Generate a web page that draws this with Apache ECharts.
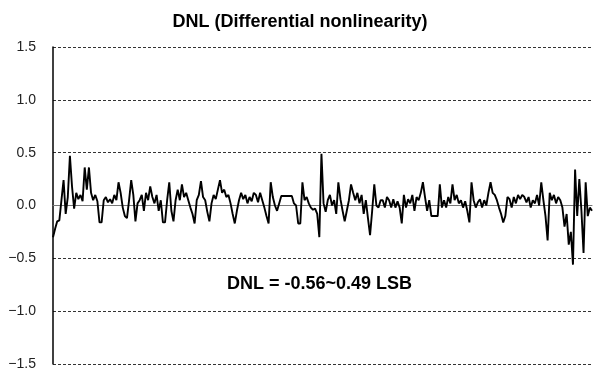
<!DOCTYPE html>
<html>
<head>
<meta charset="utf-8">
<script src="https://cdn.jsdelivr.net/npm/echarts@6/dist/echarts.min.js"></script>
<style>html,body{margin:0;padding:0;background:#fff;}#c{width:600px;height:371px;}</style>
</head>
<body>
<div id="c"></div>
<script>
const titleText = 'DNL (Differential nonlinearity)';
const noteText = 'DNL = -0.56~0.49 LSB';
const yTicks = [-1.5, -1.0, -0.5, 0.0, 0.5, 1.0, 1.5];
const dnl = [
 -0.30,-0.22,-0.15,-0.14,0.05,0.24,-0.08,0.08,0.47,0.18,-0.03,0.12,0.06,0.10,0.04,0.36,
 0.15,0.36,0.12,0.05,0.10,0.04,-0.16,-0.16,0.05,0.08,0.03,0.06,0.02,0.10,0.05,0.22,
 0.12,-0.02,-0.10,-0.12,0.05,0.24,0.10,-0.15,0.02,0.05,0.10,-0.05,0.12,0.05,0.18,0.08,
 0.02,0.10,-0.05,0.05,-0.16,-0.16,0.05,0.22,-0.05,-0.15,0.05,0.15,0.05,0.20,0.08,0.12,
 0.05,-0.02,-0.08,-0.17,0.05,0.10,0.23,0.08,0.05,-0.06,-0.15,0.02,0.10,0.06,0.15,0.24,
 0.12,0.15,0.08,0.10,0.02,-0.08,-0.17,-0.05,0.05,0.12,0.06,0.10,0.02,0.08,0.04,0.12,
 0.10,0.03,0.12,0.05,-0.02,-0.10,-0.17,0.22,0.08,0.00,-0.05,0.02,0.09,0.09,0.09,0.09,
 0.09,0.09,0.02,0.00,-0.17,-0.17,0.22,0.05,0.08,0.02,-0.02,-0.04,-0.03,-0.08,-0.30,0.49,
 0.02,-0.06,0.05,0.10,0.00,0.05,-0.08,0.22,0.06,-0.05,-0.15,-0.05,0.05,0.20,0.12,0.05,
 0.12,0.02,0.10,-0.08,0.05,-0.12,-0.28,-0.05,0.20,0.00,-0.02,0.05,0.05,-0.02,0.08,0.05,
 -0.02,0.06,-0.02,0.04,-0.02,-0.17,0.10,-0.02,0.06,0.02,0.10,-0.05,0.08,0.05,0.12,0.22,
 0.08,-0.05,0.05,-0.10,-0.10,-0.10,-0.10,0.20,-0.02,0.05,-0.02,0.08,0.02,0.20,0.05,0.10,
 0.02,0.05,-0.02,0.04,-0.05,-0.16,0.22,0.05,-0.02,0.03,0.06,-0.02,0.05,0.00,0.12,0.22,
 0.12,0.10,0.05,-0.02,-0.08,-0.16,-0.10,0.08,0.06,-0.02,0.08,0.02,0.10,0.06,0.10,0.08,
 0.03,0.08,-0.02,0.05,0.02,0.10,0.00,0.22,0.05,-0.10,-0.33,0.12,0.05,0.10,0.02,0.08,
 0.05,-0.02,-0.20,-0.08,-0.37,-0.25,-0.56,0.34,-0.10,0.25,-0.05,-0.45,0.22,-0.10,-0.02,-0.05
];
const codes = dnl.map((_, i) => i);
const fontFam = "'Liberation Sans', Arial, sans-serif";

const chart = echarts.init(document.getElementById('c'), null, {renderer: 'canvas'});
chart.setOption({
  animation: false,
  backgroundColor: '#fff',
  title: {
    text: titleText,
    left: 'center',
    top: 8,
    textStyle: {fontFamily: fontFam, fontSize: 18, fontWeight: 'bold', color: '#000'}
  },
  grid: {left: 53, right: 8, top: 47, bottom: 6, containLabel: false},
  xAxis: {
    type: 'category',
    data: codes,
    boundaryGap: false,
    axisLine: {show: true, lineStyle: {color: '#777', width: 1}},
    axisTick: {show: false},
    axisLabel: {show: false},
    splitLine: {show: false}
  },
  yAxis: {
    type: 'value',
    min: yTicks[0],
    max: yTicks[yTicks.length - 1],
    interval: 0.5,
    axisLine: {show: true, lineStyle: {color: '#000', width: 1.5}},
    axisTick: {show: false},
    axisLabel: {
      margin: 17,
      fontFamily: fontFam,
      fontSize: 14,
      color: '#222',
      formatter: v => (v < 0 ? '\u2212' : '') + Math.abs(v).toFixed(1)
    },
    splitLine: {show: true, lineStyle: {color: '#333', width: 1, type: [3, 2]}}
  },
  series: [{
    type: 'line',
    data: dnl,
    symbol: 'none',
    lineStyle: {color: '#000', width: 1.9},
    z: 5
  }],
  graphic: [{
    type: 'text',
    left: 322 - 95,
    top: 275,
    style: {text: noteText, fontFamily: fontFam, fontSize: 18, fontWeight: 'bold', fill: '#000'}
  }]
});
</script>
</body>
</html>
